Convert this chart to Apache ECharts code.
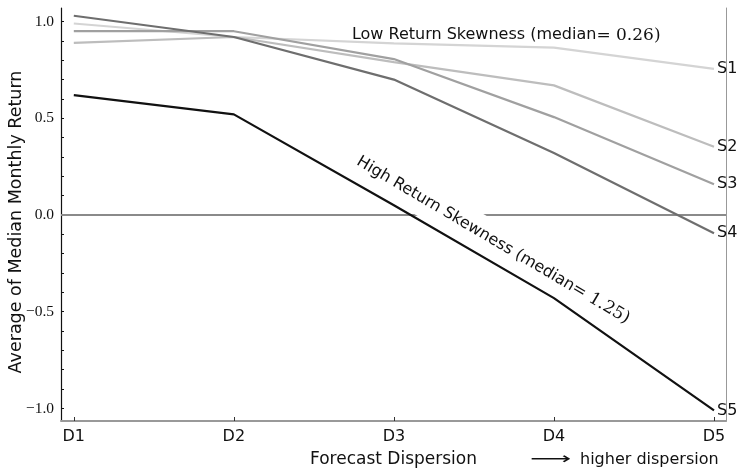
<!DOCTYPE html>
<html><head><meta charset="utf-8">
<script src="https://cdn.jsdelivr.net/npm/echarts@6/dist/echarts.min.js"></script>
<style>html,body{margin:0;padding:0;background:#fff}#c{width:742px;height:468px}</style>
</head><body><div id="c"></div>
<script>
const categories = ['D1', 'D2', 'D3', 'D4', 'D5'];
const seriesNames = ['S1', 'S2', 'S3', 'S4', 'S5'];
const s1 = [0.99, 0.92, 0.887, 0.865, 0.755];
const s2 = [0.89, 0.92, 0.79, 0.67, 0.353];
const s3 = [0.95, 0.95, 0.806, 0.506, 0.159];
const s4 = [1.03, 0.92, 0.70, 0.32, -0.094];
const s5 = [0.62, 0.52, 0.05, -0.43, -1.01];
const yTickValues = [-1.0, -0.9, -0.8, -0.7, -0.6, -0.5, -0.4, -0.3, -0.2, -0.1, 0, 0.1, 0.2, 0.3, 0.4, 0.5, 0.6, 0.7, 0.8, 0.9, 1.0];
const yLabelValues = [-1.0, -0.5, 0, 0.5, 1.0];
const yTickLabels = ['\u22121.0', '\u22120.5', '0.0', '0.5', '1.0'];
const referenceLine = 0;
const lowText = 'Low Return Skewness (median';
const lowMath = '= 0.26)';
const highText = 'High Return Skewness (median';
const highMath = '= 1.25)';
const xNote = 'higher dispersion';

const colors = ['#d4d4d4', '#bdbdbd', '#a0a0a0', '#6e6e6e', '#111111'];
const allData = [s1, s2, s3, s4, s5];
const SANS = '"DejaVu Sans", sans-serif';
const SERIF = '"DejaVu Serif", "Liberation Serif", serif';
const TICKSERIF = '"Liberation Serif", "DejaVu Serif", serif';

const chart = echarts.init(document.getElementById('c'), null, {renderer: 'canvas'});
const xMin = -0.08, xMax = 4.075, yMin = -1.065, yMax = 1.07;

const series = allData.map((arr, i) => ({
  name: seriesNames[i],
  type: 'line',
  data: arr.map((v, j) => [j, v]),
  symbol: 'none',
  z: 3 + i,
  lineStyle: {color: colors[i], width: 2.2},
  itemStyle: {color: colors[i]},
  endLabel: {show: true, formatter: '{a}', color: '#111', fontSize: 16, fontFamily: SANS, distance: 3},
  animation: false
}));
series.push({
  name: 'zero', type: 'line', data: [], z: 1, silent: true,
  markLine: {
    silent: true, symbol: 'none', label: {show: false}, z: 1,
    lineStyle: {color: '#8a8a8a', width: 2, type: 'solid'},
    data: [{yAxis: referenceLine}]
  }
});

chart.setOption({
  animation: false,
  grid: {left: 61, right: 16, top: 8, bottom: 47, containLabel: false, outerBoundsMode: 'none'},
  xAxis: {
    type: 'value', min: xMin, max: xMax,
    name: 'Forecast Dispersion', nameLocation: 'middle', nameGap: 30, nameMoveOverlap: false,
    nameTextStyle: {fontSize: 17, color: '#111', fontFamily: SANS},
    axisLine: {onZero: false, lineStyle: {color: '#999', width: 2}},
    axisTick: {show: true, inside: true, length: 4, customValues: [0, 1, 2, 3, 4], lineStyle: {color: '#333'}},
    axisLabel: {customValues: [0, 1, 2, 3, 4], formatter: v => categories[Math.round(v)], fontSize: 16, color: '#111', fontFamily: SANS, margin: 8},
    splitLine: {show: false}
  },
  yAxis: [{
    type: 'value', min: yMin, max: yMax,
    name: 'Average of Median Monthly Return', nameLocation: 'middle', nameGap: 36, nameMoveOverlap: false,
    nameTextStyle: {fontSize: 17.5, color: '#111', fontFamily: SANS, padding: [0, 15, 0, 0]},
    axisLine: {show: true, onZero: false, lineStyle: {color: '#111', width: 1.2}},
    axisTick: {show: true, inside: true, length: 3, customValues: yTickValues, lineStyle: {color: '#111'}},
    axisLabel: {customValues: yLabelValues, formatter: v => yTickLabels[yLabelValues.findIndex(t => Math.abs(t - v) < 1e-6)], fontSize: 15.5, color: '#111', fontFamily: TICKSERIF, margin: 7},
    splitLine: {show: false}
  }, {
    type: 'value', min: yMin, max: yMax, position: 'right',
    axisLine: {show: true, onZero: false, lineStyle: {color: '#999', width: 1}},
    axisTick: {show: false}, axisLabel: {show: false}, splitLine: {show: false}
  }],
  series: series
});

const pLow = chart.convertToPixel({xAxisIndex: 0, yAxisIndex: 0}, [1.7375, 0.93]);
const pHigh = chart.convertToPixel({xAxisIndex: 0, yAxisIndex: 0}, [2.62, -0.13]);
chart.setOption({
  graphic: [
    {
      type: 'text', x: pLow[0], y: pLow[1], z: 50,
      style: {
        text: '{a|' + lowText + '}{b|' + lowMath + '}',
        verticalAlign: 'middle', align: 'left',
        rich: {a: {fontSize: 16, fontFamily: SANS, fill: '#111'}, b: {fontSize: 17, fontFamily: SERIF, fill: '#111'}}
      }
    },
    {
      type: 'text', x: pHigh[0], y: pHigh[1], z: 2,
      rotation: -30.5 * Math.PI / 180,
      style: {
        text: '{a|' + highText + '}{b|' + highMath + '}',
        align: 'center', verticalAlign: 'middle',
        backgroundColor: '#fff', padding: [9, 4],
        rich: {a: {fontSize: 16, fontFamily: SANS, fill: '#111'}, b: {fontSize: 17, fontFamily: SERIF, fill: '#111'}}
      }
    },
    {
      type: 'text', x: 530, y: 460, z: 50, scaleX: 1.8,
      style: {text: '\u27F6', fontSize: 16, fontFamily: SANS, fill: '#111', verticalAlign: 'middle', align: 'left'}
    },
    {
      type: 'text', x: 580, y: 460, z: 50,
      style: {text: xNote, fontSize: 16, fontFamily: SANS, fill: '#111', verticalAlign: 'middle', align: 'left'}
    }
  ]
});
</script>
</body></html>
